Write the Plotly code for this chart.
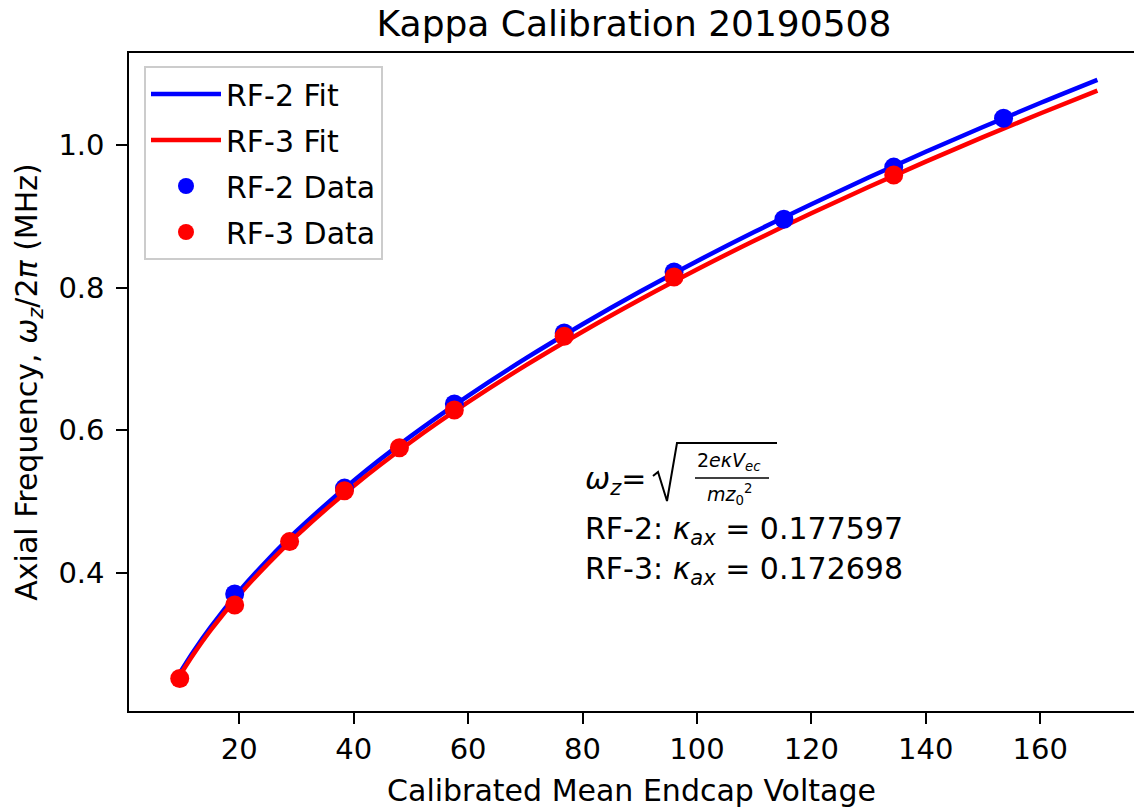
import plotly.graph_objects as go

# ---------------- data ----------------
rf2_voltage = [19.2, 38.4, 57.6, 76.8, 96.0, 115.2, 134.4, 153.6]
rf2_freq = [0.3705, 0.519, 0.637, 0.7365, 0.822, 0.896, 0.969, 1.0375]

rf3_voltage = [9.6, 19.2, 28.8, 38.4, 48.0, 57.6, 76.8, 96.0, 134.4]
rf3_freq = [0.252, 0.355, 0.444, 0.5154, 0.5756, 0.6285, 0.732, 0.815, 0.958]

fit_voltage = [9, 10, 12, 15, 20, 25, 30, 40, 50, 60, 70, 80, 90, 100,
               110, 120, 130, 140, 150, 160, 170]
rf2_fit = [0.2511, 0.2647, 0.2900, 0.3242, 0.3744, 0.4186, 0.4585, 0.5294,
           0.5919, 0.6484, 0.7004, 0.7487, 0.7942, 0.8371, 0.8780, 0.9170,
           0.9545, 0.9905, 1.0252, 1.0589, 1.0914]
rf3_fit = [0.2477, 0.2611, 0.2860, 0.3197, 0.3692, 0.4128, 0.4521, 0.5221,
           0.5837, 0.6394, 0.6907, 0.7383, 0.7831, 0.8255, 0.8658, 0.9043,
           0.9412, 0.9767, 1.0110, 1.0442, 1.0763]

x_ticks = [20, 40, 60, 80, 100, 120, 140, 160]
y_ticks = [0.4, 0.6, 0.8, 1.0]
y_tick_text = ["0.4", "0.6", "0.8", "1.0"]

kappa_rf2 = "0.177597"
kappa_rf3 = "0.172698"

# ---------------- layout geometry (pixels) ----------------
W, H = 1134, 810
L, R, T, B = 129, 0, 53, 99
PW, PH = W - L - R, H - T - B
FONT = "DejaVu Sans"
BLUE, RED = "#0000ff", "#ff0000"


def px(x):
    return (x - L) / PW


def py(y):
    return (H - B - y) / PH


fig = go.Figure()

fig.add_trace(go.Scatter(x=fit_voltage, y=rf2_fit, mode="lines", name="RF-2 Fit",
                         line=dict(color=BLUE, width=4.5, shape="spline"),
                         legendgroup="a"))
fig.add_trace(go.Scatter(x=fit_voltage, y=rf3_fit, mode="lines", name="RF-3 Fit",
                         line=dict(color=RED, width=4.5, shape="spline"),
                         legendgroup="b"))
fig.add_trace(go.Scatter(x=rf2_voltage, y=rf2_freq, mode="markers", name="RF-2 Data",
                         marker=dict(color=BLUE, size=19, line=dict(width=0)),
                         legendgroup="c"))
fig.add_trace(go.Scatter(x=rf3_voltage, y=rf3_freq, mode="markers", name="RF-3 Data",
                         marker=dict(color=RED, size=19, line=dict(width=0)),
                         legendgroup="d"))

axis_common = dict(showgrid=False, zeroline=False, showline=True, linecolor="black",
                   linewidth=2.4, ticks="outside", ticklen=10.5, tickwidth=2.4,
                   tickcolor="black", tickfont=dict(family=FONT, size=29, color="black"))

fig.update_xaxes(range=[0.73, 176.4], tickvals=x_ticks, mirror=True,
                 title=dict(text="Calibrated Mean Endcap Voltage",
                            font=dict(family=FONT, size=30, color="black"), standoff=15),
                 ticklabelstandoff=0, **axis_common)
fig.update_yaxes(range=[0.2065, 1.129], tickvals=y_ticks, ticktext=y_tick_text,
                 title=dict(text="Axial Frequency, <i>ω</i><sub><i>z</i></sub>/2<i>π</i> (MHz)",
                            font=dict(family=FONT, size=30, color="black"), standoff=12),
                 ticklabelstandoff=6, **axis_common)

ann_font = dict(family=FONT, size=30, color="black")
annotations = [
    dict(x=px(583), y=py(481), text="<i>ω</i><sub><i>z</i></sub>=",
         xanchor="left", yanchor="middle", font=ann_font),
    dict(x=px(729), y=py(461), text="2<i>eκV</i><sub><i>ec</i></sub>",
         xanchor="center", yanchor="middle", font=dict(family=FONT, size=19, color="black")),
    dict(x=px(729), y=py(494), text="<i>mz</i><sub>0</sub><sup>2</sup>",
         xanchor="center", yanchor="middle", font=dict(family=FONT, size=19, color="black")),
    dict(x=px(583), y=py(530), text="RF-2: <i>κ</i><sub><i>ax</i></sub> = " + kappa_rf2,
         xanchor="left", yanchor="middle", font=ann_font),
    dict(x=px(583), y=py(570), text="RF-3: <i>κ</i><sub><i>ax</i></sub> = " + kappa_rf3,
         xanchor="left", yanchor="middle", font=ann_font),
]
for a in annotations:
    a.update(xref="paper", yref="paper", showarrow=False)

radical = "M {:.5f},{:.5f} L {:.5f},{:.5f} L {:.5f},{:.5f} L {:.5f},{:.5f} L {:.5f},{:.5f}".format(
    px(653), py(476), px(658), py(472), px(667), py(501), px(677), py(443), px(777), py(443))
shapes = [
    dict(type="path", path=radical, xref="paper", yref="paper",
         line=dict(color="black", width=2)),
    dict(type="line", x0=px(695), x1=px(769), y0=py(478), y1=py(478),
         xref="paper", yref="paper", line=dict(color="black", width=1.5)),
]

fig.update_layout(
    width=W, height=H,
    margin=dict(l=L, r=R, t=T, b=B, autoexpand=False),
    paper_bgcolor="white", plot_bgcolor="white",
    title=dict(text="Kappa Calibration 20190508", x=634 / W, xanchor="center",
               y=1 - 23 / H, yanchor="middle",
               font=dict(family=FONT, size=36, color="black")),
    legend=dict(x=px(144), y=py(66), xanchor="left", yanchor="top",
                bgcolor="rgba(255,255,255,0.8)", bordercolor="#cccccc", borderwidth=2,
                font=dict(family=FONT, size=30, color="black"),
                tracegroupgap=4, itemwidth=70),
    annotations=annotations,
    shapes=shapes,
    showlegend=True,
)

fig.write_html("out.html", config={"displayModeBar": False},
               post_script="document.body.style.margin='0px';")
